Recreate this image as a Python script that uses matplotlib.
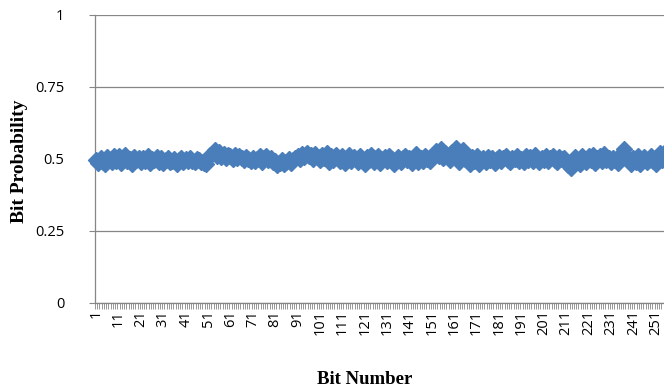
import matplotlib as mpl
mpl.use('Agg')
import matplotlib.pyplot as plt
from matplotlib.ticker import FixedLocator

# probability that each bit is 1, bits 1..256
prob = [
    0.495, 0.487, 0.502, 0.491, 0.484, 0.506, 0.498, 0.489, 0.510, 0.493,
    0.512, 0.486, 0.503, 0.515, 0.492, 0.499, 0.484, 0.508, 0.497, 0.505,
    0.490, 0.503, 0.494, 0.509, 0.487, 0.500, 0.496, 0.506, 0.491, 0.502,
    0.485, 0.497, 0.504, 0.488, 0.493, 0.500, 0.482, 0.496, 0.503, 0.490,
    0.499, 0.492, 0.505, 0.494, 0.488, 0.501, 0.497, 0.491, 0.486, 0.481,
    0.504, 0.515, 0.522, 0.531, 0.512, 0.524, 0.507, 0.518, 0.503, 0.513,
    0.509, 0.500, 0.514, 0.505, 0.511, 0.502, 0.497, 0.508, 0.501, 0.494,
    0.505, 0.492, 0.499, 0.509, 0.490, 0.503, 0.512, 0.496, 0.504, 0.488,
    0.493, 0.478, 0.486, 0.497, 0.482, 0.491, 0.500, 0.487, 0.496, 0.504,
    0.512, 0.499, 0.517, 0.506, 0.520, 0.509, 0.514, 0.501, 0.518, 0.507,
    0.495, 0.513, 0.504, 0.520, 0.491, 0.509, 0.498, 0.515, 0.502, 0.493,
    0.511, 0.485, 0.503, 0.514, 0.492, 0.507, 0.499, 0.488, 0.510, 0.496,
    0.483, 0.506, 0.497, 0.515, 0.488, 0.502, 0.510, 0.486, 0.499, 0.508,
    0.493, 0.512, 0.501, 0.481, 0.496, 0.507, 0.489, 0.503, 0.510, 0.495,
    0.502, 0.486, 0.498, 0.516, 0.490, 0.505, 0.493, 0.511, 0.500, 0.494,
    0.508, 0.519, 0.527, 0.512, 0.533, 0.503, 0.521, 0.510, 0.495, 0.525,
    0.507, 0.538, 0.488, 0.519, 0.530, 0.499, 0.512, 0.483, 0.506, 0.494,
    0.510, 0.481, 0.498, 0.504, 0.489, 0.507, 0.495, 0.502, 0.486, 0.499,
    0.508, 0.492, 0.503, 0.511, 0.496, 0.489, 0.505, 0.499, 0.509, 0.494,
    0.501, 0.490, 0.512, 0.497, 0.506, 0.493, 0.515, 0.500, 0.491, 0.504,
    0.498, 0.509, 0.492, 0.503, 0.510, 0.495, 0.488, 0.506, 0.499, 0.502,
    0.493, 0.480, 0.470, 0.489, 0.506, 0.497, 0.483, 0.511, 0.499, 0.491,
    0.509, 0.495, 0.514, 0.487, 0.503, 0.509, 0.492, 0.516, 0.498, 0.505,
    0.491, 0.504, 0.497, 0.486, 0.512, 0.520, 0.536, 0.507, 0.494, 0.482,
    0.503, 0.490, 0.511, 0.484, 0.499, 0.507, 0.488, 0.495, 0.510, 0.493,
    0.482, 0.505, 0.520, 0.496, 0.513, 0.530,
]
bits = list(range(1, len(prob) + 1))
x_labels = [str(b) for b in bits if (b - 1) % 10 == 0]
y_ticks = [0, 0.25, 0.5, 0.75, 1]
y_labels = ['0', '0.25', '0.5', '0.75', '1']

grey = '#868686'
fig = plt.figure(figsize=(6.64, 3.89), dpi=100)
ax = fig.add_axes([95 / 664, 86 / 389, 573 / 664, 288 / 389])

ax.plot(bits, prob, linestyle='none', marker='D', markersize=8,
        color='#4A7EBB', markeredgecolor='#4A7EBB', clip_on=False, zorder=3)

ax.set_xlim(0.5, len(prob) + 0.5)
ax.set_ylim(0, 1)
ax.set_yticks(y_ticks)
ax.set_yticklabels(y_labels, fontsize=10.5, family='Open Sans')
ax.yaxis.grid(True, color=grey, linewidth=0.9)
ax.set_axisbelow(True)

ax.xaxis.set_major_locator(FixedLocator([b for b in bits if (b - 1) % 10 == 0]))
ax.set_xticklabels(x_labels, rotation=90, fontsize=10.5, family='Open Sans')
ax.xaxis.set_minor_locator(FixedLocator([b + 0.5 for b in range(0, len(prob) + 1)]))
ax.tick_params(axis='x', which='major', length=0, pad=5)
ax.tick_params(axis='x', which='minor', length=4, color=grey, width=0.6)
ax.tick_params(axis='y', length=4, color=grey, pad=18)

for side in ['top', 'right']:
    ax.spines[side].set_visible(False)
for side in ['left', 'bottom']:
    ax.spines[side].set_color(grey)
    ax.spines[side].set_linewidth(0.9)

fig.text(20 / 664, 1 - 161 / 389, 'Bit Probability', rotation=90, ha='center',
         va='center', fontsize=14, fontweight='bold', family='Liberation Serif')
fig.text(365 / 664, 1 - 380 / 389, 'Bit Number', ha='center', va='center',
         fontsize=13.5, fontweight='bold', family='Liberation Serif')

fig.savefig('out.png', dpi=100)
